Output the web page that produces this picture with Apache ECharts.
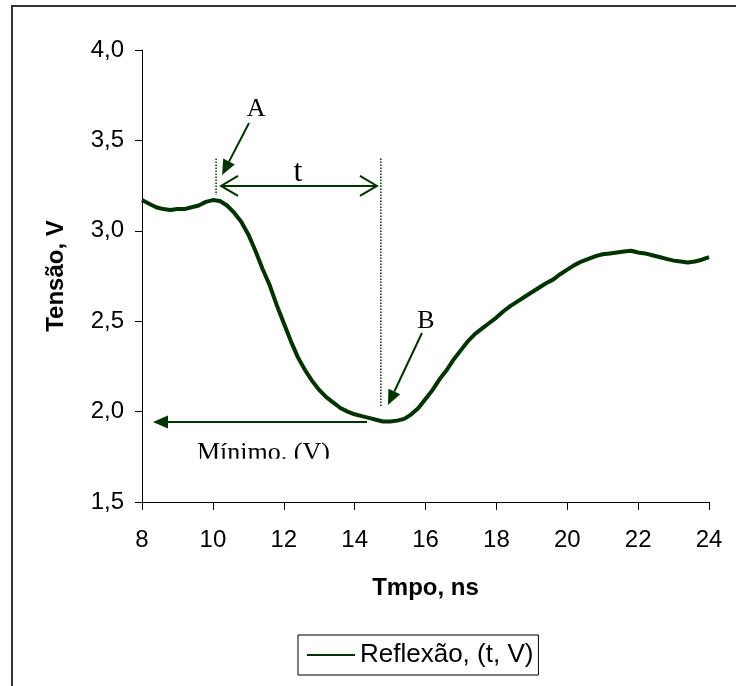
<!DOCTYPE html>
<html>
<head>
<meta charset="utf-8">
<style>
html,body{margin:0;padding:0;background:#fff;}
#chart{width:736px;height:686px;}
</style>
<script src="https://cdn.jsdelivr.net/npm/echarts@6/dist/echarts.min.js"></script>
</head>
<body>
<div id="chart"></div>
<script>
// ---- data ----
const time = [8.0,8.2,8.4,8.6,8.8,9.0,9.2,9.4,9.6,9.8,10.0,10.2,10.4,10.6,10.8,11.0,11.2,11.4,11.6,11.8,
  12.0,12.2,12.4,12.6,12.8,13.0,13.2,13.4,13.6,13.8,14.0,14.2,14.4,14.6,14.8,15.0,15.2,15.4,15.6,15.8,
  16.0,16.2,16.4,16.6,16.8,17.0,17.2,17.4,17.6,17.8,18.0,18.2,18.4,18.6,18.8,19.0,19.2,19.4,19.6,19.8,
  20.0,20.2,20.4,20.6,20.8,21.0,21.2,21.4,21.6,21.8,22.0,22.2,22.4,22.6,22.8,23.0,23.2,23.4,23.6,23.8,24.0];
const tension = [3.17,3.15,3.13,3.12,3.115,3.12,3.12,3.13,3.14,3.16,3.17,3.165,3.14,3.10,3.05,2.98,2.89,2.79,2.70,2.59,
  2.49,2.39,2.30,2.23,2.17,2.12,2.08,2.05,2.02,2.00,1.985,1.975,1.965,1.955,1.945,1.945,1.95,1.96,1.985,2.02,
  2.07,2.12,2.18,2.23,2.29,2.34,2.39,2.43,2.46,2.49,2.52,2.555,2.585,2.61,2.635,2.66,2.685,2.71,2.73,2.76,
  2.785,2.81,2.83,2.845,2.86,2.87,2.875,2.88,2.885,2.89,2.88,2.875,2.865,2.855,2.845,2.835,2.83,2.825,2.83,2.84,2.855];
const seriesName = 'Reflexão, (t, V)';
const xTitle = 'Tmpo, ns';
const yTitle = 'Tensão, V';
// annotation anchors in data units [t, V]
const markA = {label:[11.22,3.674], from:[11.02,3.596], to:[10.26,3.309]};
const markB = {label:[16.01,2.50], from:[15.90,2.435], to:[14.94,2.036]};
const dotted1 = [[10.09,3.40],[10.09,3.198]];
const dotted2 = [[14.74,3.40],[14.74,2.025]];
const spanT = {from:[10.23,3.248], to:[14.63,3.248], label:[12.4,3.32]};
const minimo = {from:[14.35,1.942], to:[8.31,1.942], label:[9.55,1.772]};

const GREEN = '#003300';
const chart = echarts.init(document.getElementById('chart'), null, {renderer:'canvas'});
chart.setOption({
  animation:false,
  backgroundColor:'#fff',
  grid:{left:142, right:27, top:50, bottom:184},
  xAxis:{
    type:'value', min:8, max:24, interval:2,
    name:xTitle, nameLocation:'middle', nameGap:74,
    nameTextStyle:{fontFamily:'Liberation Sans, Arial', fontWeight:'bold', fontSize:24, color:'#000'},
    axisLine:{show:true, onZero:false, lineStyle:{color:'#000', width:1}},
    axisTick:{show:true, inside:false, length:8, lineStyle:{color:'#000'}},
    axisLabel:{fontFamily:'Liberation Sans, Arial', fontSize:24, color:'#000', margin:26},
    splitLine:{show:false}
  },
  yAxis:{
    type:'value', min:1.5, max:4, interval:0.5,
    name:yTitle, nameLocation:'middle', nameGap:74, nameRotate:90,
    nameTextStyle:{fontFamily:'Liberation Sans, Arial', fontWeight:'bold', fontSize:24, color:'#000'},
    axisLine:{show:true, onZero:false, lineStyle:{color:'#000', width:1}},
    axisTick:{show:true, inside:false, length:7, lineStyle:{color:'#000'}},
    axisLabel:{fontFamily:'Liberation Sans, Arial', fontSize:24, color:'#000', margin:18,
      formatter:v=>v.toFixed(1).replace('.',',')},
    splitLine:{show:false}
  },
  legend:{
    left:298, top:635,
    padding:[7,5,7,9],
    borderColor:'#000', borderWidth:1,
    itemWidth:48, itemHeight:14,
    icon:'path://M0,6 L48,6 L48,8 L0,8 Z',
    textStyle:{fontFamily:'Liberation Sans, Arial', fontSize:26, color:'#000'},
    data:[seriesName]
  },
  series:[{
    name:seriesName, type:'line', symbol:'none',
    data: time.map((t,i)=>[t, tension[i]]),
    lineStyle:{color:GREEN, width:4},
    itemStyle:{color:GREEN}
  }]
});

function px(p){ return chart.convertToPixel({gridIndex:0}, p); }
function headPoly(tip, from, len, half){
  const dx=tip[0]-from[0], dy=tip[1]-from[1], L=Math.hypot(dx,dy);
  const ux=dx/L, uy=dy/L, nx=-uy, ny=ux;
  const bx=tip[0]-ux*len, by=tip[1]-uy*len;
  return [[tip[0],tip[1]],[bx+nx*half,by+ny*half],[bx-nx*half,by-ny*half]];
}
function openHead(tip, from, len, half){
  const dx=tip[0]-from[0], dy=tip[1]-from[1], L=Math.hypot(dx,dy);
  const ux=dx/L, uy=dy/L, nx=-uy, ny=ux;
  const bx=tip[0]-ux*len, by=tip[1]-uy*len;
  return [[bx+nx*half,by+ny*half],[tip[0],tip[1]],[bx-nx*half,by-ny*half]];
}
const g = [];
// outer frame (left & top visible in reference)
g.push({type:'rect', shape:{x:12,y:6,width:800,height:800}, style:{fill:null, stroke:'#333', lineWidth:2}, silent:true});
function filledArrow(a){
  const f=px(a.from), t=px(a.to);
  const head=headPoly(t,f,15,6.5);
  const base=[(head[1][0]+head[2][0])/2,(head[1][1]+head[2][1])/2];
  g.push({type:'polyline', shape:{points:[f,base]}, style:{stroke:GREEN, lineWidth:2}, silent:true});
  g.push({type:'polygon', shape:{points:head}, style:{fill:GREEN}, silent:true});
}
filledArrow(markA); filledArrow(markB); filledArrow(minimo);
[dotted1,dotted2].forEach(d=>{
  g.push({type:'polyline', shape:{points:[px(d[0]),px(d[1])]}, style:{stroke:GREEN, lineWidth:1.5, lineDash:[1.5,1.5]}, silent:true});
});
// double arrow t
const s1=px(spanT.from), s2=px(spanT.to);
g.push({type:'polyline', shape:{points:[s1,s2]}, style:{stroke:GREEN, lineWidth:2}, silent:true});
g.push({type:'polyline', shape:{points:openHead(s1,s2,17,10)}, style:{stroke:GREEN, lineWidth:2, fill:null}, silent:true});
g.push({type:'polyline', shape:{points:openHead(s2,s1,17,10)}, style:{stroke:GREEN, lineWidth:2, fill:null}, silent:true});
function label(txt, p, size, align){
  const q=px(p);
  g.push({type:'text', x:q[0], y:q[1], style:{text:txt, fill:'#000', font:size+'px "Liberation Serif", "Times New Roman", serif', align:align||'center', verticalAlign:'middle'}, silent:true, z:5});
  return q;
}
label('A', markA.label, 26);
label('B', markB.label, 26);
label('t', spanT.label, 32);
const mq = label('Mínimo. (V)', minimo.label, 26, 'left');
// reference clips the bottom of this label
g.push({type:'rect', shape:{x:mq[0]-4, y:mq[1]+6, width:150, height:14}, style:{fill:'#fff'}, silent:true, z:6});
chart.setOption({graphic:g});
</script>
</body>
</html>
